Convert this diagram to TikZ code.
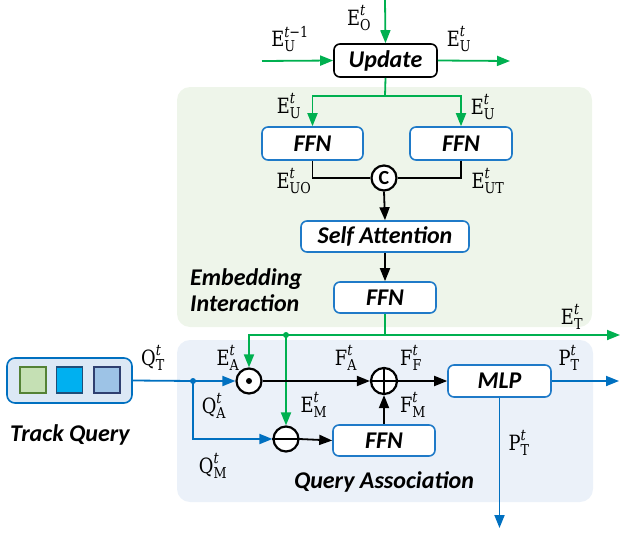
\RequirePackage{fix-cm}
\documentclass[tikz,border=0pt]{standalone}
\usepackage{fontspec}
\setsansfont{Carlito}
\newfontfamily\lblserif{DejaVu Serif}[FakeStretch=0.85]
\usetikzlibrary{arrows.meta,calc}
\definecolor{agreen}{HTML}{00B050}
\definecolor{ablue}{HTML}{0070C0}
\definecolor{bbox}{HTML}{1F7AC8}
\definecolor{gpanel}{HTML}{EEF5EA}
\definecolor{bpanel}{HTML}{EBF1F9}
\definecolor{tqfill}{HTML}{DCE8F5}
\definecolor{sqgreen}{HTML}{C5E0B4}
\definecolor{sqgreenb}{HTML}{548235}
\definecolor{sqblue}{HTML}{00B0F0}
\definecolor{sqblueb}{HTML}{1F4E79}
\definecolor{sqlight}{HTML}{9DC3E6}
\definecolor{sqlightb}{HTML}{2F3F70}
\newcommand{\boxfnt}{\fontsize{24}{26}\selectfont\sffamily\bfseries\itshape}
\newcommand{\lblfnt}{\fontsize{21}{23}\selectfont\lblserif}
\newcommand{\subfnt}{\fontsize{15}{15}\selectfont\lblserif}
% symbol with subscript and superscript, all in the label serif
\newcommand{\lab}[3]{$\hbox{#1}_{\hbox{\subfnt #2}}^{\hbox{\subfnt #3}}$}
\begin{document}
\begin{tikzpicture}[x=1pt,y=-1pt,
  tip/.style={-{Triangle[length=13pt,width=10pt]}},
  gline/.style={draw=agreen,line width=1.8pt},
  bline/.style={draw=ablue,line width=1.8pt},
  kline/.style={draw=black,line width=1.8pt},
  fbox/.style={draw=bbox,line width=1.6pt,rounded corners=6pt,fill=white,
    font=\boxfnt,inner sep=0pt},
  opc/.style={circle,draw=black,line width=2.2pt,fill=white,minimum size=25pt,inner sep=0pt},
  lbl/.style={font=\lblfnt,inner sep=0pt},
  ttl/.style={font=\boxfnt,inner sep=0pt},
  sq/.style={line width=1.3pt,minimum size=26pt,inner sep=0pt},
  jdot/.style={circle,inner sep=0pt,minimum size=6pt}
]
\useasboundingbox (0,0) rectangle (620,535);

% background panels
\fill[gpanel,rounded corners=13pt] (177,87) rectangle (592,327);
\fill[bpanel,rounded corners=13pt] (177,340) rectangle (593,502);

% blocks
\node[fbox,draw=black,minimum width=103pt,minimum height=33pt] (upd) at (385.5,60.5) {Update};
\node[fbox,minimum width=101pt,minimum height=33pt] (ffn1) at (312.5,143.5) {FFN};
\node[fbox,minimum width=102pt,minimum height=33pt] (ffn2) at (461,143.5) {FFN};
\node[opc,font=\fontsize{20}{20}\selectfont\sffamily\bfseries] (cc) at (384,178) {C};
\node[fbox,minimum width=168pt,minimum height=31pt] (sa) at (385,236.5) {Self Attention};
\node[fbox,minimum width=102pt,minimum height=31pt] (ffn3) at (385,297.5) {FFN};
\node[ttl,anchor=west,align=left] (emb) at (190,290) {Embedding\\[0pt]Interaction};

\node[fbox,draw=ablue,fill=tqfill,rounded corners=8pt,minimum width=125pt,minimum height=45pt] (tq) at (69.5,380.5) {};
\node[sq,draw=sqgreenb,fill=sqgreen] (s1) at (33,380) {};
\node[sq,draw=sqblueb,fill=sqblue] (s2) at (69.5,380) {};
\node[sq,draw=sqlightb,fill=sqlight] (s3) at (107,380) {};
\node[ttl] (tql) at (70,435) {Track Query};

\node[opc] (odot) at (249,381) {};
\fill (odot.center) circle (3pt);
\node[opc,minimum size=26pt] (oplus) at (384,381) {};
\draw[line width=2pt] (oplus.north) -- (oplus.south) (oplus.west) -- (oplus.east);
\node[opc] (omin) at (286,439) {};
\draw[line width=2pt] (omin.west) -- (omin.east);
\node[fbox,minimum width=103pt,minimum height=32pt] (mlp) at (499.5,381) {MLP};
\node[fbox,minimum width=102pt,minimum height=31pt] (ffn4) at (384,440.5) {FFN};
\node[ttl] (qal) at (384,482) {Query Association};

% junctions and free ends
\coordinate (topin) at (385,0);
\coordinate (lin) at (262,61);
\coordinate (rout) at (510,61);
\coordinate (j1) at (385,96);
\coordinate (j2) at (385,335);
\coordinate (etout) at (620,335);
\node[jdot,fill=agreen] (d1) at (286,335) {};
\node[jdot,fill=ablue] (qd) at (193,381) {};
\coordinate (pout) at (619,381);
\coordinate (pdown) at (499.5,528);

% embedding interaction flow
\draw[gline,tip] (topin) -- (upd.north);
\draw[gline,tip] (lin) -- (upd.west);
\draw[gline,tip] (upd.east) -- (rout);
\draw[gline] (upd.south) -- (j1);
\draw[gline,tip] (j1) -| (ffn1.north);
\draw[gline,tip] (j1) -| (ffn2.north);
\draw[kline] (ffn1.south) |- (cc.west);
\draw[kline] (ffn2.south) |- (cc.east);
\draw[kline,tip] (cc.south) -- (sa.north);
\draw[kline,tip] (sa.south) -- (ffn3.north);
\draw[gline] (ffn3.south) -- (j2);
\draw[gline,tip] (j2) -- (etout);
\draw[gline,tip] (j2) -| (odot.north);
\draw[gline,tip] (d1.center) -- (omin.north);

% query association flow
\draw[bline] (tq.east) -- (qd.center);
\draw[bline,tip] (qd.center) -- (odot.west);
\draw[bline,tip] (qd.center) |- (omin.west);
\draw[kline,tip] (odot.east) -- (oplus.west);
\draw[kline,tip] (oplus.east) -- (mlp.west);
\draw[kline,tip] (omin.east) -- (ffn4.west);
\draw[kline,tip] (ffn4.north) -- (oplus.south);
\draw[bline,tip] (mlp.east) -- (pout);
\draw[bline,tip] (mlp.south) -- (pdown);

% labels
\node[lbl] (lEO) at (359,18) {\lab{E}{O}{\itshape t}};
\node[lbl] (lEU1) at (290,39) {\lab{E}{U}{\itshape t\/\upshape −1}};
\node[lbl] (lEU2) at (459,39) {\lab{E}{U}{\itshape t}};
\node[lbl] (lEU3) at (289,106) {\lab{E}{U}{\itshape t}};
\node[lbl] (lEU4) at (483,107) {\lab{E}{U}{\itshape t}};
\node[lbl] (lEUO) at (294,181) {\lab{E}{UO}{\itshape t}};
\node[lbl] (lEUT) at (488,181) {\lab{E}{UT}{\itshape t}};
\node[lbl] (lET) at (572,317) {\lab{E}{T}{\itshape t}};
\node[lbl] (lQT) at (153,358) {\lab{Q}{T}{\itshape t}};
\node[lbl] (lEA) at (228,358) {\lab{E}{A}{\itshape t}};
\node[lbl] (lQA) at (214,406) {\lab{Q}{A}{\itshape t}};
\node[lbl] (lQM) at (213,466) {\lab{Q}{M}{\itshape t}};
\node[lbl] (lEM) at (314,405) {\lab{E}{M}{\itshape t}};
\node[lbl] (lFA) at (346,358) {\lab{F}{A}{\itshape t}};
\node[lbl] (lFF) at (411,358) {\lab{F}{F}{\itshape t}};
\node[lbl] (lFM) at (413,405) {\lab{F}{M}{\itshape t}};
\node[lbl] (lPT1) at (569,358) {\lab{P}{T}{\itshape t}};
\node[lbl] (lPT2) at (519,443) {\lab{P}{T}{\itshape t}};
\end{tikzpicture}
\end{document}
